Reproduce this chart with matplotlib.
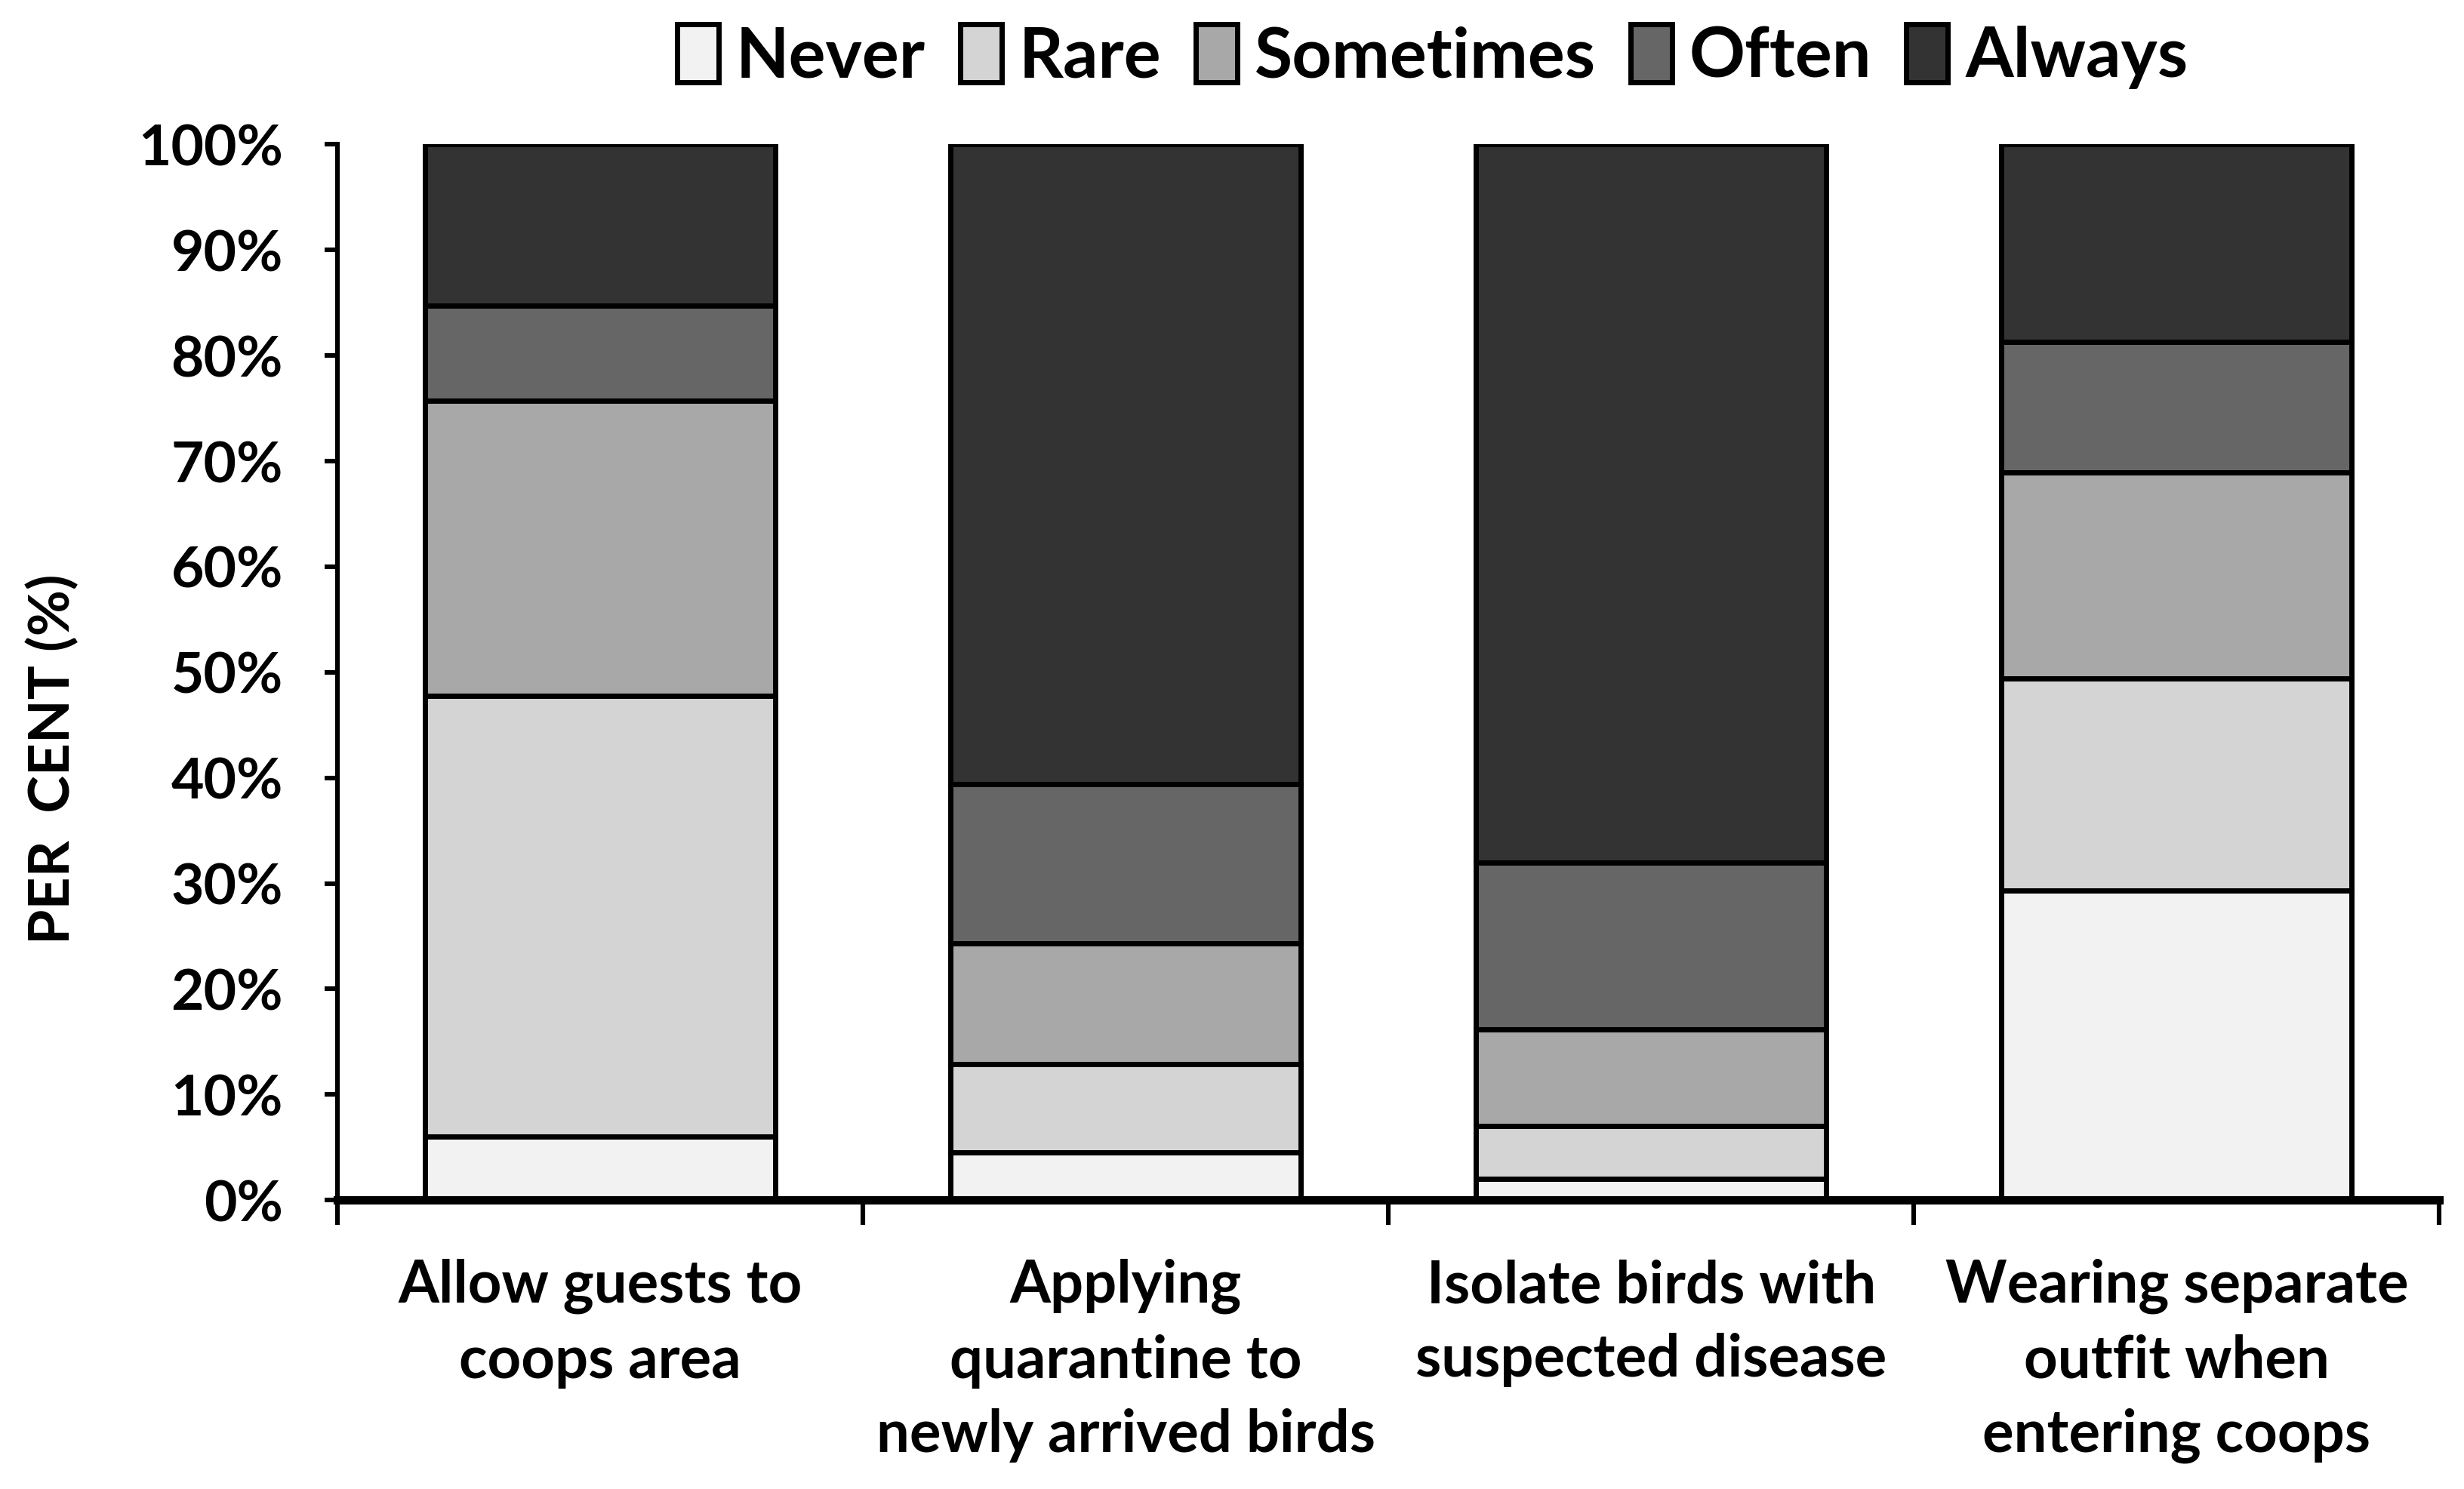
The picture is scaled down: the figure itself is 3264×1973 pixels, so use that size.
import numpy as np
import matplotlib.pyplot as plt
from matplotlib.ticker import MultipleLocator, FixedLocator, PercentFormatter

plt.rcParams['font.family'] = ['Lato', 'DejaVu Sans']
plt.rcParams['font.weight'] = 'bold'

# datos
categorias = ["Allow guests to\ncoops area",
              "Applying\nquarantine to\nnewly arrived birds",
              "Isolate birds with\nsuspected disease",
              "Wearing separate\noutfit when\nentering coops"]
series = ["Never", "Rare", "Sometimes", "Often", "Always"]
never = [6.0, 4.5, 2.0, 29.3]
rare = [41.8, 8.4, 5.0, 20.1]
sometimes = [27.9, 11.4, 9.2, 19.5]
often = [9.0, 15.1, 15.8, 12.4]
always = [15.3, 60.6, 68.0, 18.7]
colores = ["#f2f2f2", "#d4d4d4", "#a8a8a8", "#666666", "#333333"]

valores = [never, rare, sometimes, often, always]

fig = plt.figure(figsize=(16.32, 9.865), dpi=200)
ax = fig.add_axes([0.137, 0.194, 0.853, 0.709])

x = np.arange(len(categorias))
base = np.zeros(len(categorias))
for nombre, vals, col in zip(series, valores, colores):
    ax.bar(x, vals, 0.667, bottom=base, color=col, edgecolor="black",
           linewidth=2.5, label=nombre)
    base += np.array(vals)

ax.set_xlim(-0.5, 3.5)
ax.set_ylim(0, 100)
ax.yaxis.set_major_locator(MultipleLocator(10))
ax.yaxis.set_major_formatter(PercentFormatter(decimals=0))

ax.set_xticks(x)
ax.set_xticklabels(categorias, fontsize=28, fontweight="bold", linespacing=1.45)
ax.xaxis.set_minor_locator(FixedLocator(np.arange(-0.5, 4.0, 1.0)))
ax.tick_params(axis="x", which="major", length=0, pad=28)
ax.tick_params(axis="x", which="minor", length=12, width=2.2, direction="out")
ax.tick_params(axis="y", length=6, width=2.2, direction="out", pad=20, labelsize=27)
for t in ax.get_yticklabels():
    t.set_fontweight("bold")

ax.spines["top"].set_visible(False)
ax.spines["right"].set_visible(False)
ax.spines["left"].set_linewidth(2.2)
ax.spines["bottom"].set_linewidth(4)

ax.set_ylabel("PER  CENT (%)", fontsize=27, fontweight="bold")
ax.yaxis.set_label_coords(-0.123, 0.418)

ax.legend(loc="center", bbox_to_anchor=(0.521, 1.083), ncol=5, frameon=False,
          fontsize=33, handlelength=0.6, handleheight=0.9, handletextpad=0.25,
          columnspacing=0.5)

plt.savefig("out.png")
